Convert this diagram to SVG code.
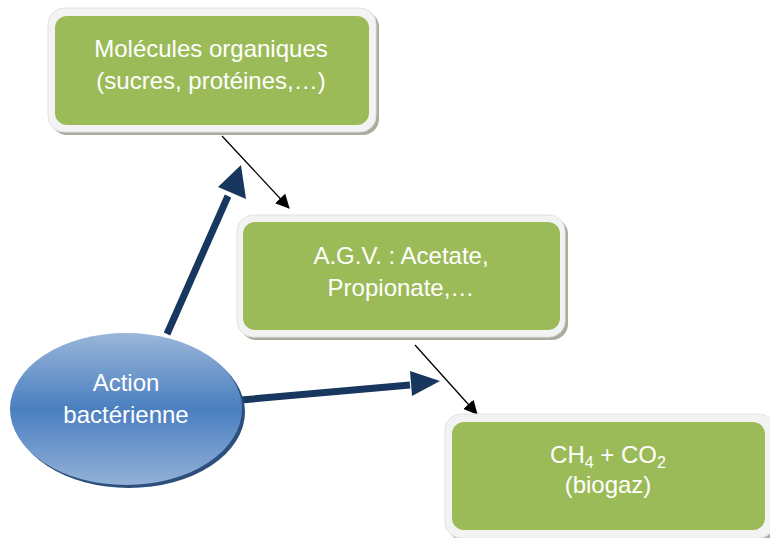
<svg xmlns="http://www.w3.org/2000/svg" width="770" height="538" viewBox="0 0 770 538">
<defs>
<style>
.frame{fill:#f3f3f3;stroke:#e2e2e2;stroke-width:1}
.shadow{fill:#a9ad9c}
.box{fill:#9bbb59}
.t{font-family:"Liberation Sans",Arial,sans-serif;font-size:24px;fill:#ffffff;text-anchor:middle}
.thin{stroke:#000;stroke-width:1.3;fill:none}
.thick{stroke:#17375e;stroke-width:7;fill:none}
</style>
<linearGradient id="eg" x1="0" y1="0" x2="0" y2="1">
<stop offset="0" stop-color="#9ab6da"/>
<stop offset="0.5" stop-color="#4a7fc0"/>
<stop offset="1" stop-color="#93b1d8"/>
</linearGradient>
<marker id="ah" markerWidth="14" markerHeight="14" refX="13" refY="7" orient="auto" markerUnits="userSpaceOnUse" viewBox="0 0 14 14">
<path d="M0,0 L14,7 L0,14 z" fill="#000"/>
</marker>
</defs>
<rect width="770" height="538" fill="#ffffff"/>
<g id="connectors">
<line class="thin" x1="222" y1="136" x2="289" y2="208" marker-end="url(#ah)"/>
<line class="thin" x1="415" y1="345" x2="477" y2="414" marker-end="url(#ah)"/>
<line class="thick" x1="167" y1="334" x2="228" y2="196"/>
<polygon points="241,165 246,199 218,187" fill="#17375e"/>
<line class="thick" x1="241" y1="400" x2="410" y2="385"/>
<polygon points="440,381 412,396 410,371" fill="#17375e"/>
</g>
<g id="n1">
<rect class="shadow" x="51" y="11" width="328" height="124" rx="16"/>
<rect class="frame" x="48" y="8" width="328" height="124" rx="16"/>
<rect class="box" x="55" y="16" width="314" height="109" rx="12"/>
<text class="t" x="211" y="57">Molécules organiques</text>
<text class="t" x="211" y="89">(sucres, protéines,…)</text>
</g>
<g id="n2">
<rect class="shadow" x="240" y="218" width="328" height="122" rx="16"/>
<rect class="frame" x="237" y="215" width="328" height="122" rx="16"/>
<rect class="box" x="243" y="222" width="317" height="108" rx="12"/>
<text class="t" x="401" y="264">A.G.V. : Acetate,</text>
<text class="t" x="401" y="296">Propionate,…</text>
</g>
<g id="n3">
<rect class="shadow" x="448" y="417" width="330" height="124" rx="16"/>
<rect class="frame" x="445" y="414" width="330" height="124" rx="16"/>
<rect class="box" x="452" y="422" width="313" height="108" rx="12"/>
<text class="t" x="608" y="463">CH<tspan font-size="16" dy="5">4</tspan><tspan dy="-5"> + CO</tspan><tspan font-size="16" dy="5">2</tspan></text>
<text class="t" x="608" y="493">(biogaz)</text>
</g>
<g id="n4">
<ellipse cx="129" cy="412" rx="116" ry="76" fill="#2c4f7c"/>
<ellipse cx="126" cy="409" rx="116" ry="76" fill="url(#eg)"/>
<text class="t" x="126" y="391">Action</text>
<text class="t" x="126" y="423">bactérienne</text>
</g>
</svg>
